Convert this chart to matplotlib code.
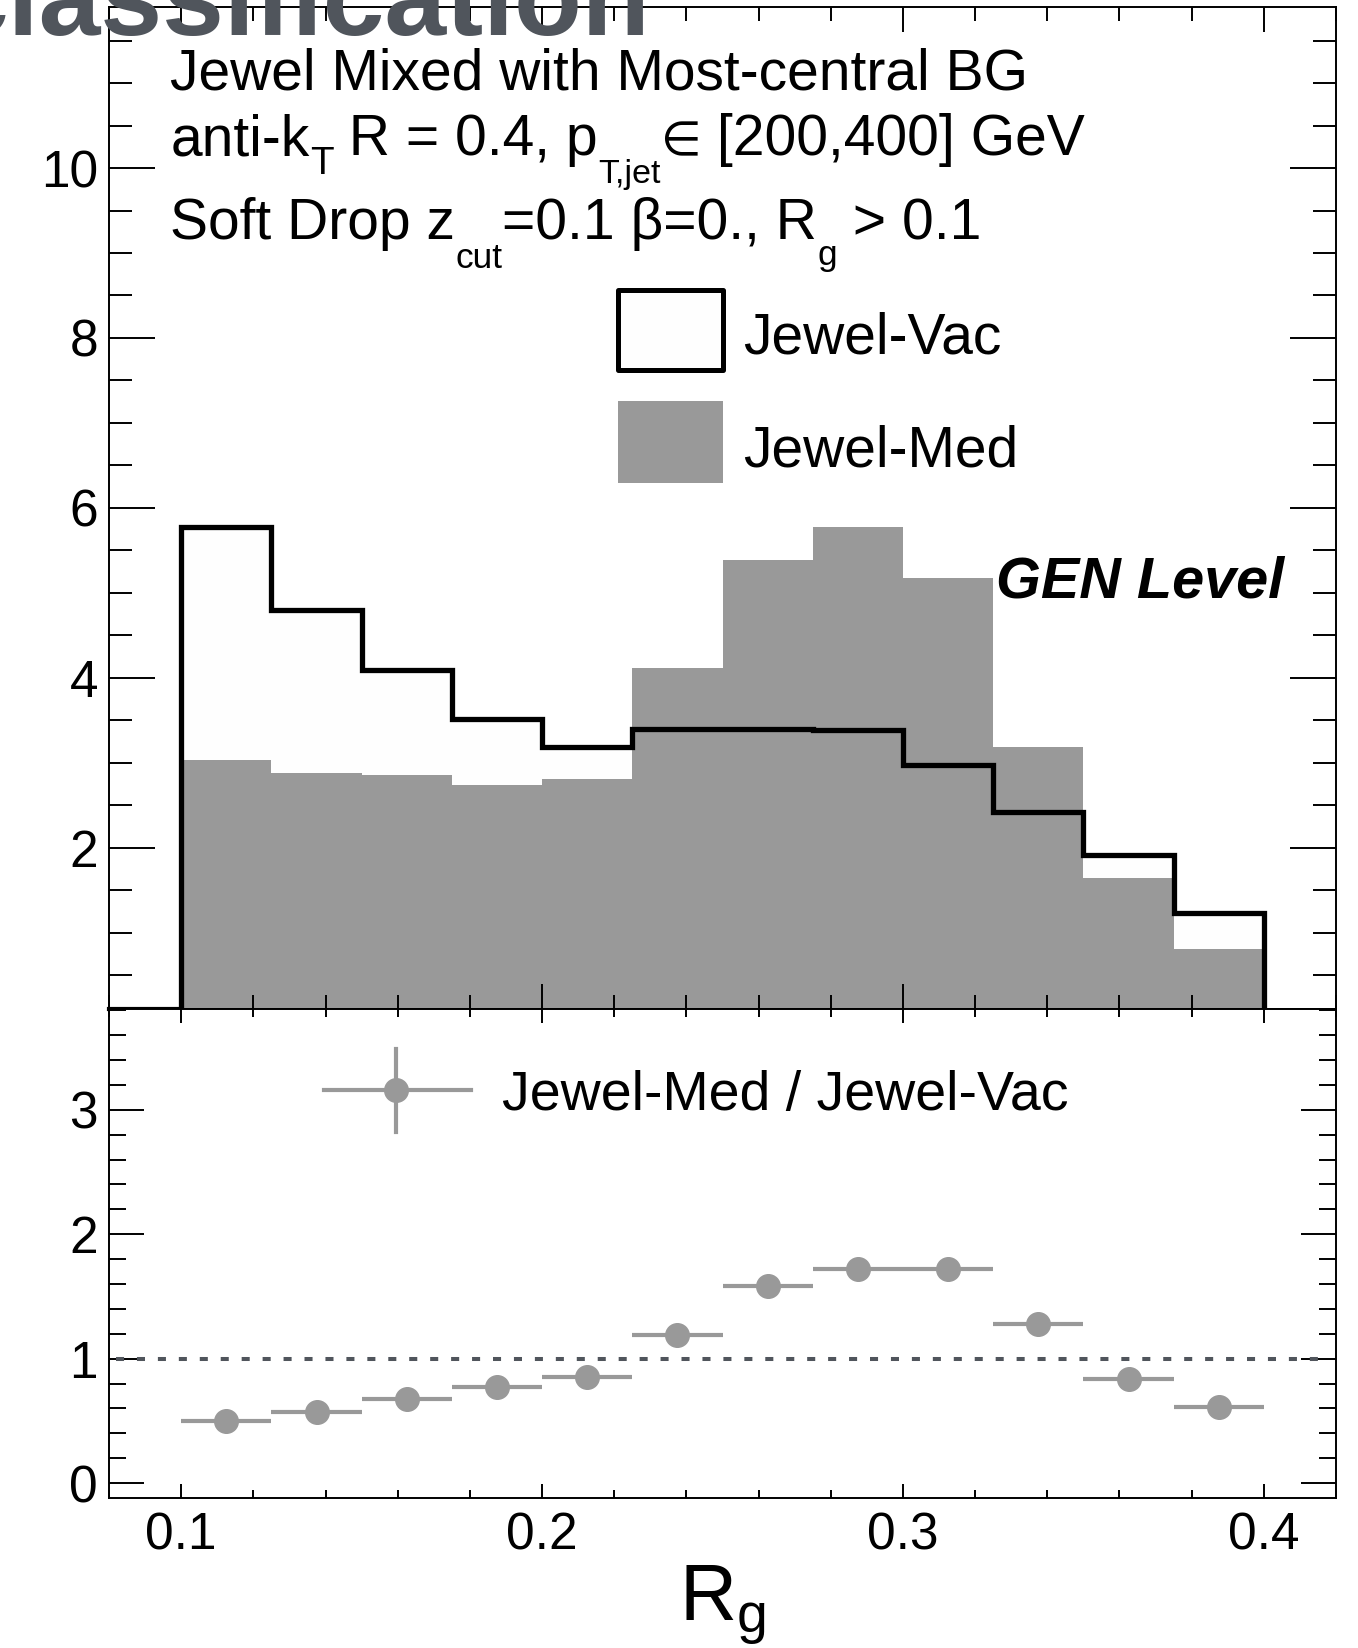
import numpy as np
import matplotlib
matplotlib.use("Agg")
import matplotlib.pyplot as plt
from matplotlib.patches import Rectangle
from matplotlib.lines import Line2D
from matplotlib.ticker import MultipleLocator
from matplotlib.transforms import IdentityTransform

plt.rcParams['font.family'] = ['Liberation Sans', 'DejaVu Sans']
plt.rcParams['mathtext.fontset'] = 'custom'
plt.rcParams['mathtext.rm'] = 'Liberation Sans'
plt.rcParams['mathtext.it'] = 'Liberation Sans:italic'

# R_g bins and histogram contents
bin_edges = [0.1, 0.125, 0.15, 0.175, 0.2, 0.225, 0.25, 0.275, 0.3, 0.325, 0.35, 0.375, 0.4]
vac = [5.78, 4.80, 4.09, 3.51, 3.18, 3.40, 3.40, 3.39, 2.97, 2.42, 1.91, 1.23]
med = [3.03, 2.88, 2.86, 2.74, 2.81, 4.12, 5.39, 5.78, 5.17, 3.18, 1.64, 0.81]
ratio = [0.50, 0.57, 0.675, 0.77, 0.85, 1.19, 1.58, 1.72, 1.72, 1.28, 0.84, 0.61]
ratio_err = [0.04, 0.04, 0.04, 0.05, 0.05, 0.06, 0.07, 0.07, 0.07, 0.06, 0.06, 0.06]

bin_centers = [(a + b) / 2 for a, b in zip(bin_edges[:-1], bin_edges[1:])]
bin_half = [(b - a) / 2 for a, b in zip(bin_edges[:-1], bin_edges[1:])]

# info text, ROOT-like latex: (text, size factor, drop below baseline in em)
info_lines = [
    [("Jewel Mixed with Most-central BG", 1, 0)],
    [("anti-k", 1, 0), ("T", 0.68, 0.33), (" R = 0.4, p", 1, 0), ("T,jet", 0.6, 0.5),
     ("∈", 0.82, 0), (" [200,400] GeV", 1, 0)],
    [("Soft Drop z", 1, 0), ("cut", 0.62, 0.5), ("=0.1 β=0., R", 1, 0), ("g", 0.62, 0.45),
     (" > 0.1", 1, 0)],
]

FS = 41
TICK_FS = 37
GREY = '#999999'
DARK = '#50555c'
ymin, ymax = 0.1, 11.9

fig = plt.figure(figsize=(13.58, 16.48), dpi=100)
renderer = fig.canvas.get_renderer()
ax = fig.add_axes([0.0803, 0.38775, 0.9035, 0.6082])
ax2 = fig.add_axes([0.0803, 0.0910, 0.9035, 0.29675])


def rich_text(ax, x, y, pieces, fs):
    px, py = ax.transAxes.transform((x, y))
    em = fs * fig.dpi / 72
    for s, scale, drop in pieces:
        t = ax.text(px, py - drop * em, s, transform=IdentityTransform(),
                    fontsize=fs * scale, va='baseline', ha='left')
        px = t.get_window_extent(renderer).x1


# upper panel
ax.stairs(vac, bin_edges, fill=True, color='#fefefe', baseline=0)
ax.stairs(med, bin_edges, fill=True, color=GREY, baseline=0)
ax.stairs(vac, bin_edges, color='black', lw=3.8, baseline=0, joinstyle='miter')
ax.plot([0.08, bin_edges[0]], [ymin, ymin], color='black', lw=3.0, clip_on=False)
ax.set_xlim(0.08, 0.42)
ax.set_ylim(ymin, ymax)
ax.yaxis.set_major_locator(MultipleLocator(2))
ax.yaxis.set_minor_locator(MultipleLocator(0.5))
ax.xaxis.set_major_locator(MultipleLocator(0.1))
ax.xaxis.set_minor_locator(MultipleLocator(0.02))
ax.tick_params(axis='both', which='both', direction='in', top=True, right=True, width=1.4,
               labelsize=TICK_FS, pad=8)
ax.tick_params(axis='y', which='major', length=33)
ax.tick_params(axis='y', which='minor', length=16.5)
ax.tick_params(axis='x', which='major', length=18)
ax.tick_params(axis='x', which='minor', length=10)
ax.tick_params(axis='x', labelbottom=False)
ax.set_yticks([2, 4, 6, 8, 10])
for s in ax.spines.values():
    s.set_linewidth(1.4)

for pieces, ty in zip(info_lines, [0.917, 0.852, 0.768]):
    rich_text(ax, 0.050, ty, pieces, FS)

# legend (drawn by hand, ROOT style)
ax.add_patch(Rectangle((0.415, 0.638), 0.085, 0.079, transform=ax.transAxes,
                       facecolor='#fefefe', edgecolor='black', lw=3.6, joinstyle='round'))
ax.add_patch(Rectangle((0.415, 0.525), 0.085, 0.082, transform=ax.transAxes,
                       facecolor=GREY, edgecolor='none'))
ax.text(0.517, 0.669, "Jewel-Vac", transform=ax.transAxes, fontsize=FS, va='center')
ax.text(0.517, 0.556, "Jewel-Med", transform=ax.transAxes, fontsize=FS, va='center')

ax.text(0.958, 0.411, "GEN Level", transform=ax.transAxes, fontsize=41.5,
        fontweight='bold', fontstyle='italic', ha='right', va='baseline')

# lower panel: ratio
ax2.errorbar(bin_centers, ratio, xerr=bin_half, yerr=ratio_err, fmt='o', color=GREY,
             ms=17, elinewidth=3, capsize=0, mec=GREY)
ax2.axhline(1.0, xmin=0.006, xmax=0.99, color=DARK, lw=2.9, ls=(0, (2, 3.2)))
ax2.set_xlim(0.08, 0.42)
ax2.set_ylim(-0.12, 3.81)
ax2.set_yticks([0, 1, 2, 3])
ax2.yaxis.set_minor_locator(MultipleLocator(0.2))
ax2.xaxis.set_major_locator(MultipleLocator(0.1))
ax2.xaxis.set_minor_locator(MultipleLocator(0.02))
ax2.tick_params(axis='both', which='both', direction='in', top=True, right=True, width=1.4,
                labelsize=TICK_FS)
ax2.tick_params(axis='y', which='major', length=25, pad=8)
ax2.tick_params(axis='y', which='minor', length=12)
ax2.tick_params(axis='x', which='major', length=10, pad=10)
ax2.tick_params(axis='x', which='minor', length=6)
ax2.set_xticks([0.1, 0.2, 0.3, 0.4], ["0.1", "0.2", "0.3", "0.4"])
for s in ax2.spines.values():
    s.set_linewidth(1.4)

# ratio legend
ax2.add_line(Line2D([0.175, 0.295], [0.834, 0.834], transform=ax2.transAxes, color=GREY, lw=3))
ax2.add_line(Line2D([0.234, 0.234], [0.748, 0.918], transform=ax2.transAxes, color=GREY, lw=3))
ax2.add_line(Line2D([0.234], [0.834], transform=ax2.transAxes, marker='o', ms=17, color=GREY))
ax2.text(0.320, 0.822, "Jewel-Med / Jewel-Vac", transform=ax2.transAxes, fontsize=40, va='center')

fig.text(0.532, 0.0165, r"R$_{\mathrm{g}}$", fontsize=57, ha='center', va='baseline')

# clipped heading at the very top
fig.text(0.4786, 1 - 35 / 1648, "classification", fontsize=80, fontweight='bold',
         color=DARK, ha='right', va='baseline')

fig.savefig("out.png", dpi=100)
